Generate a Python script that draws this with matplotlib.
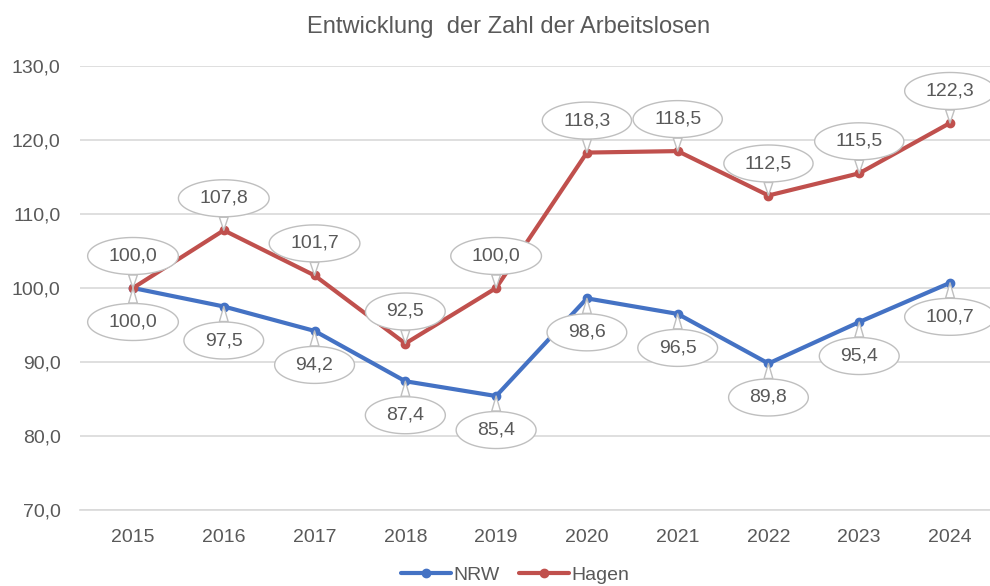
import matplotlib
matplotlib.use("Agg")
import matplotlib.pyplot as plt
from matplotlib.path import Path
import numpy as np

years = ["2015", "2016", "2017", "2018", "2019", "2020", "2021", "2022", "2023", "2024"]
nrw = [100.0, 97.5, 94.2, 87.4, 85.4, 98.6, 96.5, 89.8, 95.4, 100.7]
hagen = [100.0, 107.8, 101.7, 92.5, 100.0, 118.3, 118.5, 112.5, 115.5, 122.3]
yticks = [70, 80, 90, 100, 110, 120, 130]

plt.rcParams['font.family'] = ['Liberation Sans', 'DejaVu Sans']
TXT = '#595959'
BLUE = '#4472C4'
RED = '#C0504D'
GRID = '#D9D9D9'
FS = 14

fig = plt.figure(figsize=(9.9, 5.86), dpi=100)
ax = fig.add_axes([80/990, 1-510/586, 910/990, 444/586])

x = np.arange(len(years))
ax.plot(x, nrw, color=BLUE, lw=3, marker='o', ms=6, label='NRW', zorder=3,
        solid_capstyle='round')
ax.plot(x, hagen, color=RED, lw=3, marker='o', ms=6, label='Hagen', zorder=3,
        solid_capstyle='round')

ax.set_ylim(70, 130)
ax.set_xlim(-53/90.78, (990-133)/90.78)
ax.set_yticks(yticks)
ax.set_yticklabels([f"{v:.1f}".replace('.', ',') for v in yticks], color=TXT, fontsize=FS)
ax.set_xticks(x)
ax.set_xticklabels(years, color=TXT, fontsize=FS)
ax.tick_params(length=0)
ax.tick_params(axis='y', pad=14)
ax.tick_params(axis='x', pad=14)
ax.grid(axis='y', color=GRID, lw=1.2)
ax.set_axisbelow(True)
for s in ['top', 'right', 'left']:
    ax.spines[s].set_visible(False)
ax.spines['bottom'].set_color(GRID)
ax.spines['bottom'].set_linewidth(1.2)


def ellipse_box(x0, y0, width, height, mutation_size):
    cx = x0 + width / 2
    cy = y0 + height / 2
    rx = width / 2 + 21
    ry = 18.5
    t = np.linspace(0, 2 * np.pi, 80)
    verts = np.column_stack([cx + rx * np.cos(t), cy + ry * np.sin(t)])
    return Path(verts, closed=True)


def label(xi, yi, dy_px):
    ax.annotate(f"{yi:.1f}".replace('.', ','), xy=(xi, yi),
                xytext=(0, dy_px * 0.72), textcoords='offset points',
                ha='center', va='center', fontsize=FS, color=TXT, zorder=5,
                bbox=dict(boxstyle=ellipse_box, fc='white', ec='#BFBFBF', lw=1),
                arrowprops=dict(arrowstyle='wedge,tail_width=0.45', fc='white',
                                ec='#BFBFBF', lw=1, shrinkA=0, shrinkB=0))

for xi, yi in zip(x, nrw):
    label(xi, yi, -34)
for xi, yi in zip(x, hagen):
    label(xi, yi, 32)

fig.text(509/990, 1-27/586, "Entwicklung  der Zahl der Arbeitslosen",
         ha='center', va='center', fontsize=17, color=TXT)

fig.legend(loc='center', bbox_to_anchor=(515/990, 1-575/586), ncol=2, frameon=False,
           fontsize=FS, labelcolor=TXT, handlelength=2.6, columnspacing=1.0,
           handletextpad=0.1)

fig.savefig("out.png", dpi=100)
